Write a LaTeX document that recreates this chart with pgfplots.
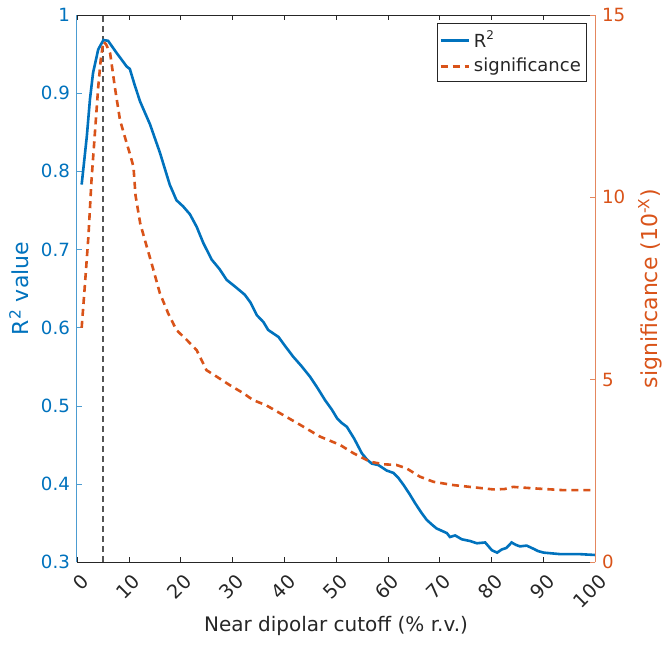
\documentclass[border=0pt]{standalone}
\usepackage{fontspec}
\setmainfont{DejaVu Sans}
\usepackage{pgfplots}
\pgfplotsset{compat=1.18}
\definecolor{mblue}{HTML}{0072BD}
\definecolor{morange}{HTML}{D95319}
\definecolor{mgray}{HTML}{262626}
\definecolor{dline}{HTML}{555555}

\pgfplotsset{
  common/.style={
    width=259pt,height=273.5pt,scale only axis,
    at={(0,0)},anchor=south west,
    xmin=0,xmax=100,
    /pgf/number format/assume math mode=true,
    tick label style={font=\fontsize{9.1}{10}\selectfont},
    label style={font=\fontsize{11}{13}\selectfont},
    major tick length=2.5pt,
    tick align=inside,
  }
}

\begin{document}
\begin{tikzpicture}
\begin{axis}[common,
    axis x line=box, axis y line*=left,
    ymin=0.3,ymax=1,
    ytick={0.3,0.4,0.5,0.6,0.7,0.8,0.9,1},
    yticklabels={0.3,0.4,0.5,0.6,0.7,0.8,0.9,1},
    xtick={0,10,...,100},
    x axis line style={mgray,line width=0.5pt},
    y axis line style={mblue!70,line width=0.5pt},
    x tick style={mgray},
    y tick style={mblue!70},
    xticklabel style={mgray,font=\fontsize{9.6}{11}\selectfont,inner sep=0pt,xshift=4pt,yshift=-8pt,rotate=45,anchor=east},
    yticklabel style={mblue},
    xlabel={Near dipolar cutoff (\% r.v.)},
    xlabel style={mgray,at={(axis description cs:0.5,0)},anchor=center,yshift=-32pt},
    ylabel={R\textsuperscript{2} value},
    ylabel style={mblue,at={(axis description cs:0,0.5)},anchor=center,yshift=29pt},
  ]
  \addplot[dline,line width=1.2pt,dash pattern=on 3pt off 2pt] coordinates {(5,0.3) (5,1)};
  \addplot[mblue,line width=1.3pt] coordinates {
    (0.9,0.783) (1.9,0.845) (2.5,0.892) (3.1,0.926) (4.1,0.956) (5.1,0.968)
    (6.0,0.967) (7.7,0.951) (8.6,0.943) (9.6,0.934) (10.2,0.931) (11.2,0.909)
    (12.2,0.889) (14.1,0.860) (16.0,0.824) (17.9,0.783) (19.2,0.763) (20.5,0.755)
    (21.8,0.745) (23.1,0.729) (24.4,0.708) (26.0,0.687) (27.5,0.675) (28.9,0.661)
    (30.6,0.652) (32.4,0.642) (33.5,0.632) (34.7,0.616) (36.0,0.607) (36.9,0.597)
    (38.9,0.588) (40.0,0.578) (41.7,0.563) (43.3,0.551) (45.0,0.537) (46.5,0.522)
    (47.9,0.507) (49.2,0.495) (50.2,0.484) (51.1,0.478) (52.1,0.473) (53.5,0.458)
    (55.0,0.439) (56.0,0.431) (56.9,0.426) (58.2,0.424) (59.8,0.417) (61.1,0.414)
    (62.0,0.408) (63.0,0.399) (64.2,0.387) (65.3,0.375) (66.5,0.363) (67.5,0.354)
    (68.5,0.348) (69.4,0.343) (71.4,0.337) (72.0,0.332) (73.0,0.334) (74.3,0.329)
    (75.8,0.327) (77.2,0.324) (78.8,0.325) (80.1,0.315) (81.1,0.312) (82.0,0.316)
    (82.9,0.318) (83.9,0.325) (84.7,0.322) (85.5,0.320) (86.8,0.321) (88.1,0.317)
    (89.0,0.314) (90.1,0.312) (93.4,0.310) (97.2,0.310) (100,0.309)
  };
\end{axis}
\begin{axis}[common,
    axis x line=none, axis y line*=right,
    ymin=0,ymax=15,
    ytick={0,5,10,15},
    y axis line style={morange!70,line width=0.5pt},
    y tick style={morange!70},
    yticklabel style={morange},
    ylabel={significance (10\textsuperscript{-X})},
    ylabel style={morange,at={(axis description cs:1,0.5)},anchor=center,yshift=-27.5pt},
    legend style={at={(rel axis cs:0.985,0.985)},anchor=north east,
      draw=mgray,line width=0.4pt,font=\fontsize{9}{11}\selectfont,
      inner xsep=1pt,inner ysep=1.5pt,
      text=mgray},
    legend cell align=left,
    legend image code/.code={\draw[#1] (0cm,0cm) -- (14pt,0cm);},
  ]
  \addlegendimage{mblue,line width=1.3pt}
  \addlegendentry{R\textsuperscript{2}}
  \addplot[morange,line width=1.3pt,dash pattern=on 3.5pt off 2.5pt] coordinates {
    (0.9,6.42) (1.5,7.55) (2.2,8.92) (2.8,10.47) (3.5,11.85) (4.1,13.03)
    (4.6,13.80) (5.1,14.27) (5.6,14.20) (6.4,13.95) (7.3,13.03) (8.3,12.12)
    (9.6,11.48) (10.2,11.20) (10.9,10.84) (11.3,10.05) (12.2,9.29) (13.1,8.83)
    (14.4,8.19) (16.0,7.37) (17.6,6.82) (19.2,6.36) (21.2,6.09) (23.1,5.81)
    (25.0,5.26) (27.0,5.08) (29.5,4.85) (32.1,4.63) (34.0,4.44) (36.5,4.30)
    (39.2,4.08) (43.1,3.76) (46.9,3.44) (50.8,3.21) (53.4,2.98) (56.6,2.75)
    (59.2,2.68) (61.7,2.66) (63.6,2.57) (66.2,2.34) (68.8,2.20) (72.6,2.11)
    (76.5,2.05) (80.4,1.99) (82.5,2.00) (84.2,2.06) (88.1,2.02) (93.9,1.97)
    (100,1.97)
  };
  \addlegendentry{significance}
\end{axis}
\pgfresetboundingbox
\path[use as bounding box] (-38.5pt,-41.5pt) rectangle (296.5pt,281pt);
\end{tikzpicture}
\end{document}
